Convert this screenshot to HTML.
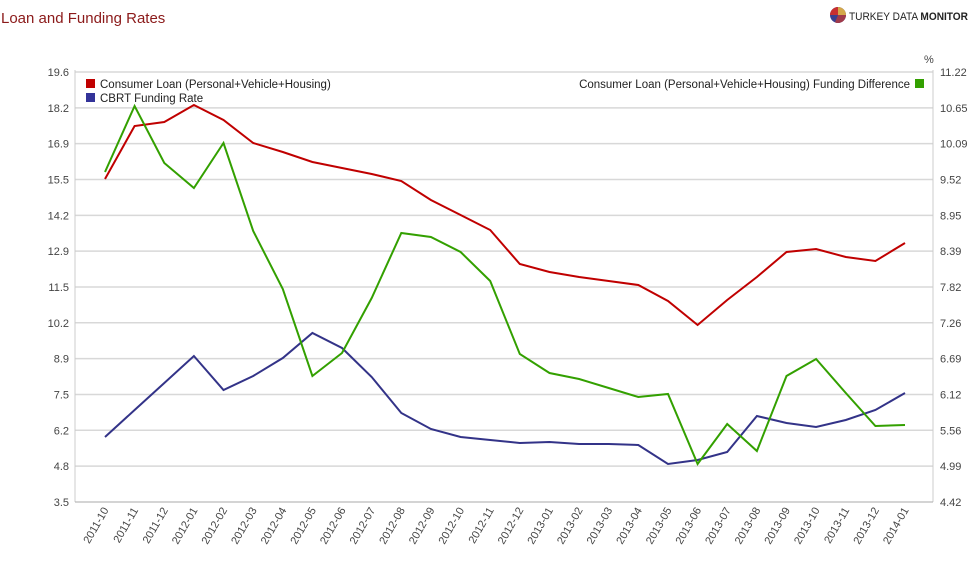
<!DOCTYPE html>
<html><head><meta charset="utf-8"><style>
body{margin:0;background:#fff;width:979px;height:570px;overflow:hidden;font-family:"Liberation Sans",Arial,sans-serif}
</style></head><body>
<svg width="979" height="570" xmlns="http://www.w3.org/2000/svg" font-family="Liberation Sans, Arial, sans-serif">
<text x="1" y="23" font-size="15" fill="#8b1a1a">Loan and Funding Rates</text>
<g transform="translate(838,15)">
<circle r="8" fill="#3a3f8f"/><path d="M0 0 L0 -8 A8 8 0 0 1 8 0Z" fill="#d4a84a"/><path d="M0 0 L8 0 A8 8 0 0 1 -3 7.4Z" fill="#a03a4a"/><path d="M0 0 L-8 0 A8 8 0 0 1 0 -8Z" fill="#c83030"/>
</g>
<text x="849" y="20" font-size="11" fill="#222" textLength="119" lengthAdjust="spacingAndGlyphs">TURKEY DATA <tspan font-weight="bold">MONITOR</tspan></text>
<text x="924" y="63" font-size="11" fill="#444">%</text>
<g id="grid" stroke="#d8d8d8" stroke-width="1.5"></g>
<line x1="75" y1="70" x2="75" y2="502" stroke="#ccc"/>
<line x1="933" y1="70" x2="933" y2="502" stroke="#ccc"/>
<line x1="75" y1="502" x2="933" y2="502" stroke="#aaa"/>
<g id="lbl" font-size="11" fill="#444"></g>
<rect x="86" y="79" width="9" height="9" fill="#c00000"/>
<text x="100" y="88" font-size="11.5" fill="#222">Consumer Loan (Personal+Vehicle+Housing)</text>
<rect x="86" y="93" width="9" height="9" fill="#333399"/>
<text x="100" y="102" font-size="11.5" fill="#222">CBRT Funding Rate</text>
<text x="910" y="88" font-size="11.5" fill="#222" text-anchor="end">Consumer Loan (Personal+Vehicle+Housing) Funding Difference</text>
<rect x="915" y="79" width="9" height="9" fill="#33a000"/>
<polyline id="r" fill="none" stroke="#c00000" stroke-width="2"/>
<polyline id="b" fill="none" stroke="#333388" stroke-width="2"/>
<polyline id="g" fill="none" stroke="#33a000" stroke-width="2"/>
</svg>
<script>
const ns="http://www.w3.org/2000/svg";
const L=["19.6","18.2","16.9","15.5","14.2","12.9","11.5","10.2","8.9","7.5","6.2","4.8","3.5"];
const R=["11.22","10.65","10.09","9.52","8.95","8.39","7.82","7.26","6.69","6.12","5.56","4.99","4.42"];
const g=document.getElementById("grid"),lb=document.getElementById("lbl");
function t(x,y,s,a,tr){const e=document.createElementNS(ns,"text");e.setAttribute("x",x);e.setAttribute("y",y);e.setAttribute("text-anchor",a);if(tr)e.setAttribute("transform",tr);e.textContent=s;lb.appendChild(e);}
for(let k=0;k<13;k++){const y=72+k*35.83;if(k<12){const l=document.createElementNS(ns,"line");l.setAttribute("x1",75);l.setAttribute("x2",933);l.setAttribute("y1",y);l.setAttribute("y2",y);g.appendChild(l);}
t(69,y+4,L[k],"end");t(940,y+4,R[k],"start");}
const xs=[];const months=[];let yr=2011,m=10;
for(let i=0;i<28;i++){xs.push(105+i*29.63);months.push(yr+"-"+String(m).padStart(2,"0"));m++;if(m>12){m=1;yr++;}}
months.forEach((s,i)=>{const x=xs[i]+4,y=510;t(x,y,s,"end","rotate(-60 "+x+" "+y+")");});
const red=[179,126,122,105,120,143,152,162,168,174,181,200,215,230,264,272,277,281,285,301,325,300,277,252,249,257,261,243];
const blue=[437,410,383,356,390,376,358,333,348,377,413,429,437,440,443,442,444,444,445,464,460,452,416,423,427,420,410,393];
const grn=[172,106,163,188,143,231,289,376,353,298,233,237,252,281,354,373,379,388,397,394,464,424,451,376,359,393,426,425];
function p(id,a){document.getElementById(id).setAttribute("points",a.map((y,i)=>xs[i].toFixed(1)+","+y).join(" "));}
p("r",red);p("b",blue);p("g",grn);
</script>
</body></html>
